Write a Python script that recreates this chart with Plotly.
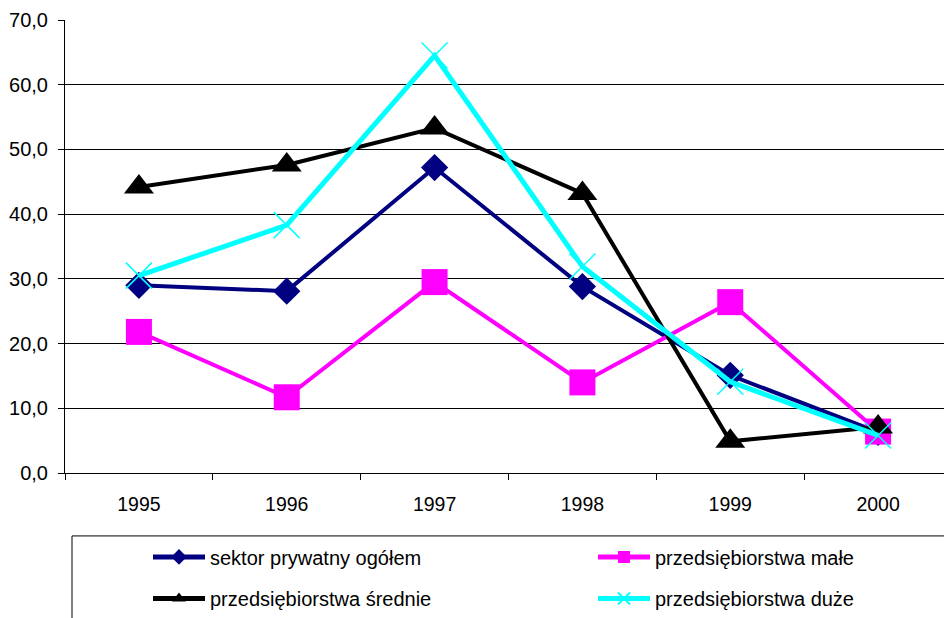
import plotly.graph_objects as go

years = ["1995", "1996", "1997", "1998", "1999", "2000"]
sektor = [29.0, 28.1, 47.2, 28.8, 15.1, 6.3]
male = [21.8, 11.7, 29.5, 14.0, 26.4, 6.4]
srednie = [44.2, 47.6, 53.3, 43.2, 4.9, 7.1]
duze = [30.5, 38.3, 64.5, 31.9, 14.1, 5.8]
yticks = [0, 10, 20, 30, 40, 50, 60, 70]

# The page body has an 8px margin, so figure coords = page coords - 8
OFF = 8
FW, FH = 952 - OFF, 618 - OFF
L, R, T, B = 65 - OFF, 952 - OFF, 19.5 - OFF, 473 - OFF
W, H = R - L, B - T
def px(x): return (x - OFF - L) / W
def py(y): return (B - (y - OFF)) / H

fig = go.Figure()
fig.add_trace(go.Scatter(x=years, y=sektor, name="sektor prywatny ogółem", mode="lines+markers",
                         line=dict(color="#000080", width=4),
                         marker=dict(symbol="diamond", size=21, color="#000080"), legend="legend"))
fig.add_trace(go.Scatter(x=years, y=male, name="przedsiębiorstwa małe", mode="lines+markers",
                         line=dict(color="#FF00FF", width=4),
                         marker=dict(symbol="square", size=26, color="#FF00FF"), legend="legend2"))
fig.add_trace(go.Scatter(x=years, y=srednie, name="przedsiębiorstwa średnie", mode="lines+markers",
                         line=dict(color="#000000", width=4),
                         marker=dict(symbol="triangle-up", size=26, color="#000000"), legend="legend3"))
fig.add_trace(go.Scatter(x=years, y=duze, name="przedsiębiorstwa duże", mode="lines+markers",
                         line=dict(color="#00FFFF", width=5),
                         marker=dict(symbol="x-thin", size=26, color="#00FFFF",
                                     line=dict(color="#00FFFF", width=1.5)), legend="legend4"))

font = dict(family="Liberation Sans, Arial, sans-serif", size=20, color="#000000")
leg_common = dict(orientation="v", xanchor="left", yanchor="middle", bgcolor="rgba(0,0,0,0)",
                  borderwidth=0, itemsizing="constant", itemwidth=52, font=font)

fig.update_layout(
    width=FW, height=FH,
    margin=dict(l=L, r=FW - R, t=T, b=FH - B, pad=0),
    paper_bgcolor="white", plot_bgcolor="white",
    separators=", ",
    font=font,
    showlegend=True,
    legend=dict(x=px(148), y=py(557), **leg_common),
    legend2=dict(x=px(593), y=py(557), **leg_common),
    legend3=dict(x=px(148), y=py(599), **leg_common),
    legend4=dict(x=px(593), y=py(599), **leg_common),
    xaxis=dict(type="category", range=[-0.5, 5.5], showgrid=False, showline=True,
               linecolor="#000000", linewidth=1, ticks="outside", tickson="boundaries",
               ticklen=6, tickcolor="#000000", tickfont=dict(size=19.5),
               ticklabelstandoff=14, zeroline=False),
    yaxis=dict(range=[0, 70], tickvals=yticks, tickformat=".1f", showgrid=True,
               gridcolor="#000000", gridwidth=1, showline=True, linecolor="#000000",
               linewidth=1, ticks="outside", ticklen=6, tickcolor="#000000",
               tickfont=dict(size=20), ticklabelstandoff=6, zeroline=False),
    shapes=[dict(type="rect", xref="paper", yref="paper", x0=px(72), x1=px(970),
                 y0=py(536), y1=py(640), line=dict(color="#000000", width=1),
                 fillcolor="rgba(0,0,0,0)", layer="below")],
)

fig.write_html("out.html")
